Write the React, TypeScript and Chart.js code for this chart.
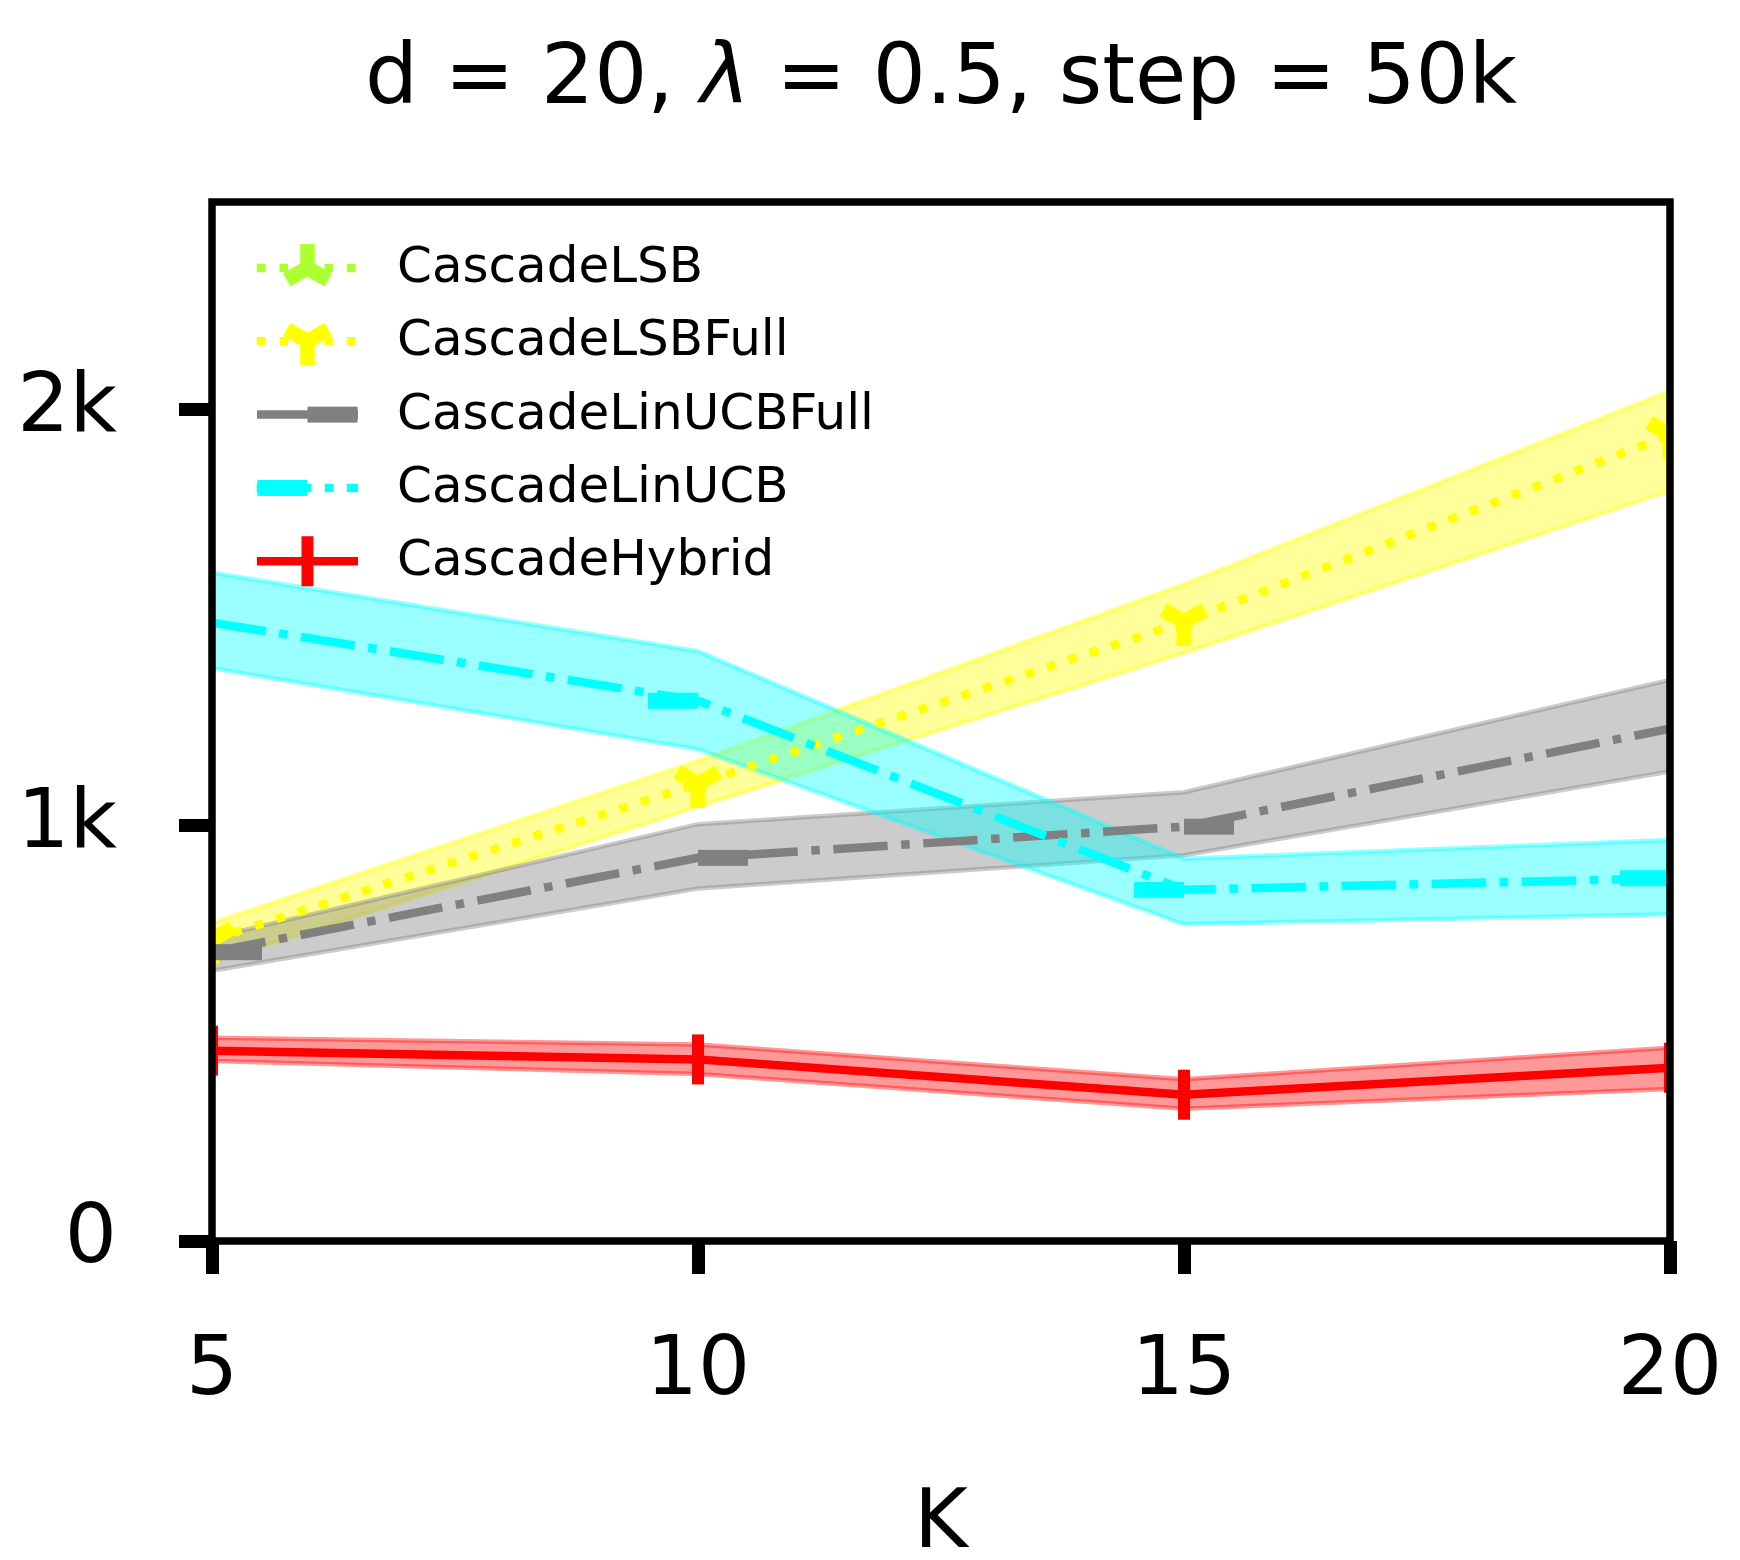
import { useEffect, useRef } from "react";
import { Chart, registerables } from "chart.js";

Chart.register(...registerables);

const kValues = [5, 10, 15, 20];
const xTicks = [5, 10, 15, 20];
const yTicks = [0, 1000, 2000];

// CascadeLSB lies above the plotted range: nothing of it shows in the figure
const lsbMean: (number | null)[] = [null, null, null, null];
const lsbLow: (number | null)[] = [null, null, null, null];
const lsbHigh: (number | null)[] = [null, null, null, null];

const lsbFullMean = [725, 1100, 1490, 1940];
const lsbFullLow = [670, 1045, 1415, 1805];
const lsbFullHigh = [765, 1155, 1580, 2045];

const linFullMean = [695, 922, 997, 1233];
const linFullLow = [650, 848, 928, 1130];
const linFullHigh = [730, 1003, 1080, 1350];

const linMean = [1488, 1300, 845, 873];
const linLow = [1378, 1183, 762, 786];
const linHigh = [1608, 1419, 920, 965];

const hybridMean = [458, 437, 352, 417];
const hybridLow = [433, 402, 318, 366];
const hybridHigh = [489, 473, 389, 465];

const FONT = "'DejaVu Sans', 'Noto Sans', sans-serif";
const LW = 8.5;
const DOTTED = [LW, LW * 1.65];
const DASHDOT = [LW * 6.4, LW * 1.6, LW, LW * 1.6];

function makeCanvas(w: number, h: number) {
  const c = document.createElement("canvas");
  c.width = w;
  c.height = h;
  return c;
}

// matplotlib "1"/"2" style tri markers
function triMarker(color: string, stemUp: boolean) {
  const c = makeCanvas(64, 64);
  const g = c.getContext("2d")!;
  const r = 24;
  const s = stemUp ? -1 : 1;
  g.strokeStyle = color;
  g.lineWidth = 15;
  g.lineCap = "butt";
  g.beginPath();
  g.moveTo(32, 32);
  g.lineTo(32, 32 + s * r);
  g.moveTo(32, 32);
  g.lineTo(32 - 0.866 * r, 32 - s * 0.5 * r);
  g.moveTo(32, 32);
  g.lineTo(32 + 0.866 * r, 32 - s * 0.5 * r);
  g.stroke();
  return c;
}

// tickleft / tickright markers
function tickMarker(color: string, dir: 1 | -1) {
  const len = 50;
  const thick = 16;
  const c = makeCanvas(len * 2 + 2, thick + 2);
  const g = c.getContext("2d")!;
  g.fillStyle = color;
  const cx = c.width / 2;
  g.fillRect(dir > 0 ? cx : cx - len, 1, len, thick);
  return c;
}

function vlineMarker(color: string) {
  const c = makeCanvas(14, 52);
  const g = c.getContext("2d")!;
  g.fillStyle = color;
  g.fillRect(1, 1, 12, 50);
  return c;
}

interface Series {
  label: string;
  mean: (number | null)[];
  low: (number | null)[];
  high: (number | null)[];
  color: string;
  band: string;
  dash: number[];
  marker: HTMLCanvasElement;
}

function pts(arr: (number | null)[]) {
  return kValues.map((k, i) => ({ x: k, y: arr[i] }));
}

export default function App() {
  const canvasRef = useRef<HTMLCanvasElement>(null);
  const chartRef = useRef<Chart | null>(null);

  useEffect(() => {
    const canvas = canvasRef.current;
    if (!canvas) return;
    chartRef.current?.destroy();

    const series: Series[] = [
      {
        label: "CascadeLSB",
        mean: lsbMean,
        low: lsbLow,
        high: lsbHigh,
        color: "#adff2f",
        band: "rgba(173,255,47,0.4)",
        dash: DOTTED,
        marker: triMarker("#adff2f", true),
      },
      {
        label: "CascadeLSBFull",
        mean: lsbFullMean,
        low: lsbFullLow,
        high: lsbFullHigh,
        color: "#ffff00",
        band: "rgba(255,255,0,0.4)",
        dash: DOTTED,
        marker: triMarker("#ffff00", false),
      },
      {
        label: "CascadeLinUCBFull",
        mean: linFullMean,
        low: linFullLow,
        high: linFullHigh,
        color: "#808080",
        band: "rgba(128,128,128,0.4)",
        dash: DASHDOT,
        marker: tickMarker("#808080", 1),
      },
      {
        label: "CascadeLinUCB",
        mean: linMean,
        low: linLow,
        high: linHigh,
        color: "#00ffff",
        band: "rgba(0,255,255,0.4)",
        dash: DASHDOT,
        marker: tickMarker("#00ffff", -1),
      },
      {
        label: "CascadeHybrid",
        mean: hybridMean,
        low: hybridLow,
        high: hybridHigh,
        color: "#ff0000",
        band: "rgba(255,0,0,0.4)",
        dash: [],
        marker: vlineMarker("#ff0000"),
      },
    ];

    const datasets: any[] = [];
    series.forEach((s, i) => {
      if (!s.mean.some((v) => v !== null)) return;
      datasets.push({
        label: s.label + " high",
        data: pts(s.high),
        borderColor: s.band,
        backgroundColor: s.band,
        borderWidth: 4.5,
        pointRadius: 0,
        fill: "+1",
        order: 100 - i * 2,
        clip: 0,
      });
      datasets.push({
        label: s.label + " low",
        data: pts(s.low),
        borderColor: s.band,
        backgroundColor: s.band,
        borderWidth: 4.5,
        pointRadius: 0,
        fill: false,
        order: 99 - i * 2,
        clip: 0,
      });
    });
    series.forEach((s, i) => {
      datasets.push({
        label: s.label,
        data: pts(s.mean),
        borderColor: s.color,
        backgroundColor: s.color,
        borderWidth: LW,
        borderDash: s.dash,
        borderCapStyle: "butt",
        pointStyle: s.marker,
        pointRadius: 25,
        pointHoverRadius: 25,
        pointBorderWidth: 0,
        fill: false,
        order: 10 - i,
        clip: 0,
      });
    });

    const decorations = {
      id: "decorations",
      afterDraw(chart: Chart) {
        const { ctx, chartArea: a } = chart;
        ctx.save();
        // spines
        ctx.strokeStyle = "#000";
        ctx.lineWidth = 7.5;
        ctx.lineJoin = "miter";
        ctx.setLineDash([]);
        ctx.strokeRect(a.left, a.top, a.right - a.left, a.bottom - a.top);

        // title with italic lambda
        const parts: [string, string][] = [
          ["d = 20, ", `83.5px ${FONT}`],
          ["λ", `italic 83.5px ${FONT}`],
          [" = 0.5, step = 50k", `83.5px ${FONT}`],
        ];
        let total = 0;
        const widths = parts.map(([t, f]) => {
          ctx.font = f;
          const w = ctx.measureText(t).width;
          total += w;
          return w;
        });
        let x = (a.left + a.right) / 2 - total / 2;
        ctx.fillStyle = "#000";
        ctx.textBaseline = "alphabetic";
        ctx.textAlign = "left";
        parts.forEach(([t, f], i) => {
          ctx.font = f;
          ctx.fillText(t, x, 103);
          x += widths[i];
        });

        // legend
        const hx0 = a.left + 45;
        const hx1 = a.left + 146;
        const hmid = (hx0 + hx1) / 2;
        series.forEach((s, i) => {
          const y = a.top + 66 + i * 73.3;
          ctx.strokeStyle = s.color;
          ctx.lineWidth = LW;
          ctx.lineCap = "butt";
          ctx.setLineDash(s.dash);
          ctx.lineDashOffset = 0;
          ctx.beginPath();
          ctx.moveTo(hx0, y);
          ctx.lineTo(hx1, y);
          ctx.stroke();
          ctx.setLineDash([]);
          const m = s.marker;
          ctx.drawImage(m, hmid - m.width / 2, y - m.height / 2);
          ctx.font = `50px ${FONT}`;
          ctx.fillStyle = "#000";
          ctx.textBaseline = "middle";
          ctx.fillText(s.label, a.left + 185, y + 1);
        });
        ctx.restore();
      },
    };

    chartRef.current = new Chart(canvas, {
      type: "line",
      data: { datasets },
      plugins: [decorations],
      options: {
        animation: false,
        responsive: false,
        devicePixelRatio: 1,
        events: [],
        layout: { padding: { top: 202, right: 70, bottom: 0, left: 0 } },
        plugins: {
          legend: { display: false },
          title: { display: false },
          tooltip: { enabled: false },
        },
        scales: {
          x: {
            type: "linear",
            min: 5,
            max: 20,
            afterBuildTicks(scale: any) {
              scale.ticks = xTicks.map((v) => ({ value: v }));
            },
            afterFit(scale: any) {
              scale.height = 319;
              scale.paddingLeft = 0;
              scale.paddingRight = 0;
            },
            ticks: {
              autoSkip: false,
              maxRotation: 0,
              padding: 50,
              color: "#000",
              font: { family: FONT, size: 82 },
              callback: (v: any) => String(v),
            },
            grid: {
              drawOnChartArea: false,
              drawTicks: true,
              tickLength: 33,
              tickWidth: 13,
              tickColor: "#000",
            },
            border: { display: false },
            title: {
              display: true,
              text: "K",
              color: "#000",
              font: { family: FONT, size: 82, lineHeight: 0.8 },
              padding: { top: 0, bottom: 1 },
            },
          },
          y: {
            type: "linear",
            min: 0,
            max: 2500,
            afterBuildTicks(scale: any) {
              scale.ticks = yTicks.map((v) => ({ value: v }));
            },
            afterFit(scale: any) {
              scale.width = 212;
            },
            ticks: {
              padding: 62,
              color: "#000",
              font: { family: FONT, size: 82 },
              callback: (v: any) => (Number(v) === 0 ? "0" : `${Number(v) / 1000}k`),
            },
            grid: {
              drawOnChartArea: false,
              drawTicks: true,
              tickLength: 33,
              tickWidth: 13,
              tickColor: "#000",
            },
            border: { display: false },
          },
        },
      } as any,
    });

    return () => {
      chartRef.current?.destroy();
      chartRef.current = null;
    };
  }, []);

  return (
    <div
      style={{
        position: "absolute",
        left: 0,
        top: 0,
        width: 1740,
        height: 1560,
        background: "#fff",
      }}
    >
      <canvas ref={canvasRef} width={1740} height={1560} />
    </div>
  );
}
